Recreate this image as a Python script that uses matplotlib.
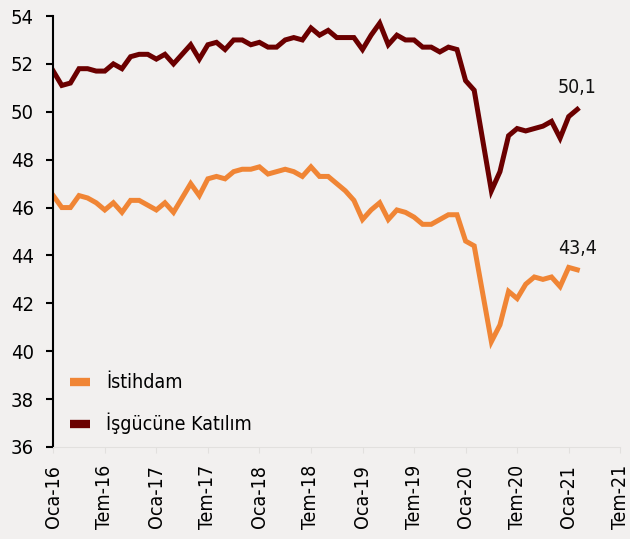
import matplotlib
matplotlib.use('Agg')
import matplotlib.pyplot as plt
import numpy as np

plt.rcParams['font.family'] = ['DejaVu Sans']
plt.rcParams['font.stretch'] = 'condensed'

# monthly series, Oca-16 .. Şub-21
istihdam = [46.5, 46.0, 46.0, 46.5, 46.4, 46.2, 45.9, 46.2, 45.8, 46.3,
            46.3, 46.1, 45.9, 46.2, 45.8, 46.4, 47.0, 46.5, 47.2, 47.3,
            47.2, 47.5, 47.6, 47.6, 47.7, 47.4, 47.5, 47.6, 47.5, 47.3,
            47.7, 47.3, 47.3, 47.0, 46.7, 46.3, 45.5, 45.9, 46.2, 45.5,
            45.9, 45.8, 45.6, 45.3, 45.3, 45.5, 45.7, 45.7, 44.6, 44.4,
            42.4, 40.4, 41.1, 42.5, 42.2, 42.8, 43.1, 43.0, 43.1, 42.7,
            43.5, 43.4]
katilim = [51.7, 51.1, 51.2, 51.8, 51.8, 51.7, 51.7, 52.0, 51.8, 52.3,
           52.4, 52.4, 52.2, 52.4, 52.0, 52.4, 52.8, 52.2, 52.8, 52.9,
           52.6, 53.0, 53.0, 52.8, 52.9, 52.7, 52.7, 53.0, 53.1, 53.0,
           53.5, 53.2, 53.4, 53.1, 53.1, 53.1, 52.6, 53.2, 53.7, 52.8,
           53.2, 53.0, 53.0, 52.7, 52.7, 52.5, 52.7, 52.6, 51.3, 50.9,
           48.8, 46.7, 47.5, 49.0, 49.3, 49.2, 49.3, 49.4, 49.6, 48.9,
           49.8, 50.1]
tick_labels = ['Oca-16', 'Tem-16', 'Oca-17', 'Tem-17', 'Oca-18', 'Tem-18',
               'Oca-19', 'Tem-19', 'Oca-20', 'Tem-20', 'Oca-21', 'Tem-21']

bg = '#F2F0EF'
orange = '#F08535'
darkred = '#6B0000'

fig = plt.figure(figsize=(6.3, 5.39), dpi=100, facecolor=bg)
ax = fig.add_axes([0.0845, 0.1707, 0.9, 0.7996])
ax.set_facecolor(bg)

x = np.arange(len(istihdam))
ax.plot(x, istihdam, color=orange, lw=3.6, solid_joinstyle='miter', label='İstihdam')
ax.plot(x, katilim, color=darkred, lw=3.6, solid_joinstyle='miter', label='İşgücüne Katılım')

# end-of-series value labels
ax.text(x[-1], katilim[-1] + 0.5, f'{katilim[-1]:.1f}'.replace('.', ','),
        ha='center', va='bottom', fontsize=14, color='#111111')
ax.text(x[-1], istihdam[-1] + 0.5, f'{istihdam[-1]:.1f}'.replace('.', ','),
        ha='center', va='bottom', fontsize=14, color='#111111')

ax.set_ylim(36, 54)
ax.set_yticks(np.arange(36, 55, 2))
ax.set_xlim(0, 66)
ax.set_xticks(np.arange(0, 67, 6))
ax.set_xticklabels(tick_labels, rotation=90)

for s in ['top', 'right']:
    ax.spines[s].set_visible(False)
ax.spines['left'].set_color('black')
ax.spines['left'].set_linewidth(1.5)
ax.spines['bottom'].set_color('#E2E0DE')
ax.tick_params(axis='y', labelsize=14.5, length=5, width=1.5, pad=9, colors='black')
ax.tick_params(axis='x', labelsize=14, length=4, pad=9, color='#E2E0DE', labelcolor='black')

leg = ax.legend(loc='lower left', bbox_to_anchor=(0.008, 0.0), frameon=False,
                fontsize=14, handlelength=1.0, handletextpad=0.85,
                labelspacing=1.05, borderaxespad=0.25)
for h in leg.get_lines():
    h.set_linewidth(6)
    h.set_solid_capstyle('butt')

fig.savefig('out.png', dpi=100, facecolor=bg)
